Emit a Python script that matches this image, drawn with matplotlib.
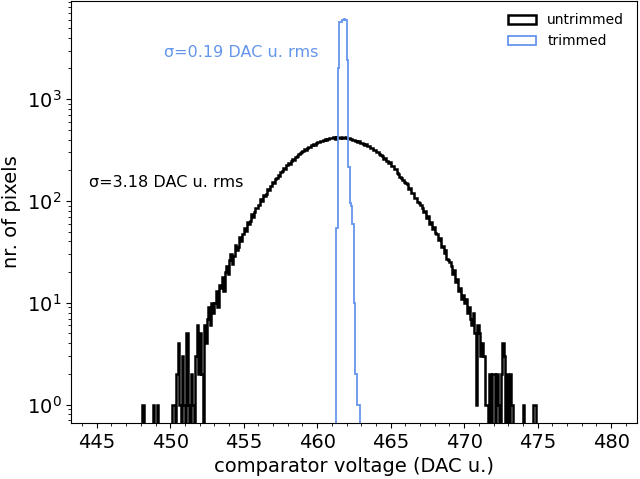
import numpy as np
import matplotlib
matplotlib.use("Agg")
import matplotlib.pyplot as plt
from matplotlib.ticker import MultipleLocator

# ---- data ----
bin_width = 0.1

untrimmed_start = 448.0
untrimmed_counts = [
    0, 1, 0, 0, 0, 0, 0, 0, 1, 0,                                   # 448
    0, 1, 0, 0, 0, 0, 0, 0, 0, 0,                                   # 449
    0, 1, 1, 0, 2, 4, 1, 0, 3, 1,                                   # 450
    0, 5, 1, 0, 2, 1, 0, 3, 6, 2,                                   # 451
    5, 2, 0, 6, 4, 7, 9, 6, 10, 8,                                  # 452
    10, 13, 9, 15, 14, 18, 13, 20, 23, 19,                          # 453
    26, 30, 24, 29, 37, 33, 35, 44, 40, 47,                         # 454
    54, 51, 62, 59, 64, 75, 70, 78, 86, 85,                         # 455
    92, 104, 99, 115, 111, 118, 131, 127, 140, 152,                 # 456
    150, 164, 168, 181, 177, 193, 198, 210, 206, 224,               # 457
    235, 231, 246, 259, 255, 272, 276, 290, 293, 302,               # 458
    306, 320, 318, 329, 341, 338, 355, 360, 357, 372,               # 459
    380, 377, 392, 386, 398, 407, 399, 404, 416, 411,               # 460
    415, 422, 410, 426, 418, 414, 427, 419, 413, 420,               # 461
    416, 411, 404, 407, 395, 398, 389, 378, 386, 370,               # 462
    372, 366, 355, 359, 344, 349, 332, 328, 316, 317,               # 463
    300, 304, 288, 281, 277, 260, 263, 249, 236, 240,               # 464
    222, 218, 204, 205, 187, 185, 171, 168, 159, 153,               # 465
    149, 146, 131, 133, 119, 120, 106, 108, 97, 95,                 # 466
    92, 86, 78, 80, 68, 71, 60, 62, 53, 55,                         # 467
    48, 47, 41, 43, 35, 36, 31, 33, 27, 26,                         # 468
    25, 23, 19, 21, 16, 17, 13, 14, 11, 12,                         # 469
    10, 11, 8, 9, 7, 6, 8, 5, 1, 6,                                 # 470
    5, 3, 4, 3, 1, 1, 0, 2, 0, 2,                                   # 471
    2, 0, 2, 1, 0, 2, 4, 3, 0, 2,                                   # 472
    0, 2, 1, 0, 0, 0, 0, 0, 0, 0,                                   # 473
    1, 0, 0, 0, 0, 0, 0, 1, 1, 0,                                   # 474
]

trimmed_start = 461.3
trimmed_counts = [54, 2000, 5700, 5750, 5950, 6050, 6000, 2400,
                  215, 95, 90, 60, 10, 2, 1, 1]

series_labels = ["untrimmed", "trimmed"]
sigma_labels = ["σ=3.18 DAC u. rms", "σ=0.19 DAC u. rms"]
x_ticks = [445, 450, 455, 460, 465, 470, 475, 480]

# ---- plot ----
fig = plt.figure(figsize=(6.4, 4.79), dpi=100)
ax = fig.add_axes([0.111, 0.117, 0.884, 0.881])

blue = "#6495ED"

edges_u = np.round(untrimmed_start + bin_width * np.arange(len(untrimmed_counts) + 1), 3)
edges_t = np.round(trimmed_start + bin_width * np.arange(len(trimmed_counts) + 1), 3)

ax.hist(edges_u[:-1] + bin_width / 2, bins=edges_u, weights=untrimmed_counts,
        histtype="step", color="black", lw=1.8, label=series_labels[0])
ax.hist(edges_t[:-1] + bin_width / 2, bins=edges_t, weights=trimmed_counts,
        histtype="step", color=blue, lw=1.3, label=series_labels[1])

ax.set_yscale("log")
ax.set_xlim(443.25, 481.75)
ax.set_ylim(0.66, 9200)

ax.set_xticks(x_ticks)
ax.xaxis.set_minor_locator(MultipleLocator(1))
ax.tick_params(axis="both", which="major", labelsize=14)

ax.set_xlabel("comparator voltage (DAC u.)", fontsize=14)
ax.set_ylabel("nr. of pixels", fontsize=14)

ax.text(444.45, 150, sigma_labels[0], color="black", fontsize=11.5,
        ha="left", va="center")
ax.text(449.55, 2900, sigma_labels[1], color=blue, fontsize=11.5,
        ha="left", va="center")

ax.legend(loc="upper right", frameon=False, fontsize=10)

fig.savefig("out.png", dpi=100)
